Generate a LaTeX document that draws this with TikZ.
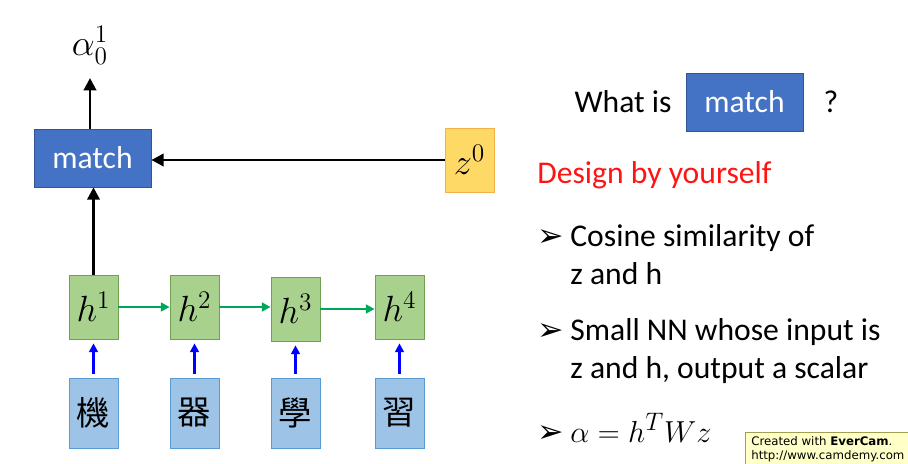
\documentclass[tikz,border=0pt]{standalone}
\usepackage{fontspec}
\usepackage{xcolor}
\usepackage{tikz}
\usetikzlibrary{calc,arrows.meta}
\setmainfont{Carlito}
\newfontfamily\cjk{Noto Sans CJK TC}
\newfontfamily\symfont{DejaVu Sans}

\definecolor{matchblue}{RGB}{68,114,196}
\definecolor{matchedge}{RGB}{47,85,151}
\definecolor{zfill}{RGB}{255,217,102}
\definecolor{zedge}{RGB}{244,177,70}
\definecolor{hfill}{RGB}{169,209,142}
\definecolor{hedge}{RGB}{112,160,80}
\definecolor{cfill}{RGB}{157,195,230}
\definecolor{cedge}{RGB}{91,155,213}
\definecolor{rnngreen}{RGB}{0,166,90}
\definecolor{designred}{RGB}{255,20,20}
\definecolor{markfill}{RGB}{255,255,200}
\definecolor{markedge}{RGB}{160,160,80}

\begin{document}
\begin{tikzpicture}[
        matchbox/.style = {draw=matchedge, fill=matchblue, text=white, minimum width=2.34cm, minimum height=1.16cm, font=\fontsize{18}{21}\selectfont},
        zbox/.style = {draw=zedge, fill=zfill, minimum width=0.98cm, minimum height=1.28cm, font=\fontsize{20}{24}\selectfont},
        hbox/.style = {draw=hedge, fill=hfill, minimum width=0.98cm, minimum height=1.28cm, font=\fontsize{20}{24}\selectfont},
        charbox/.style = {draw=cedge, fill=cfill, minimum width=0.98cm, minimum height=1.40cm, font=\fontsize{19}{22}\selectfont\cjk},
        arrow/.style = {-{Triangle[length=7pt,width=7pt]}, line width=1.6pt},
        garrow/.style = {-{Triangle[length=5pt,width=5pt]}, line width=1.2pt, rnngreen},
        barrow/.style = {-{Triangle[length=5pt,width=5pt]}, line width=1.2pt, blue},
        bigtext/.style = {font=\fontsize{18}{21.6}\selectfont, align=left, inner sep=0pt},
        bullet/.style = {font=\fontsize{18}{21}\symfont, inner sep=0pt}
    ]
    \useasboundingbox (0,0) rectangle (18.16,-9.26);

    % match and its inputs
    \node[matchbox] (match) at (1.85,-3.16) {match};
    \node[zbox] (z0) at (9.39,-3.20) {$z^0$};
    \node[font=\fontsize{20}{24}\selectfont] (alpha) at (1.80,-0.90) {$\alpha_0^1$};
    \coordinate (atop) at (1.80,-1.56);

    % hidden states
    \node[hbox] (h1) at (1.87,-6.14) {$h^1$};
    \node[hbox] (h2) at (3.89,-6.14) {$h^2$};
    \node[hbox] (h3) at (5.91,-6.18) {$h^3$};
    \node[hbox] (h4) at (7.99,-6.14) {$h^4$};

    % input characters
    \node[charbox] (c1) at (1.87,-8.26) {機};
    \node[charbox] (c2) at (3.89,-8.26) {器};
    \node[charbox] (c3) at (5.91,-8.26) {學};
    \node[charbox] (c4) at (7.99,-8.26) {習};

    % arrows
    \draw[arrow] (match.north -| atop) -- (atop);
    \draw[arrow] (z0.west) -- (z0.west -| match.east);
    \draw[arrow] (h1.north) -- (h1.north |- match.south);
    \draw[garrow] (h1.east) -- (h2.west |- h1.east);
    \draw[garrow] (h2.east) -- (h3.west |- h2.east);
    \draw[garrow] (h3.east) -- (h4.west |- h3.east);
    \draw[barrow] ($(c1.north)+(0,0.08)$) -- ($(h1.south)+(0,-0.08)$);
    \draw[barrow] ($(c2.north)+(0,0.08)$) -- ($(h2.south)+(0,-0.08)$);
    \draw[barrow] ($(c3.north)+(0,0.08)$) -- ($(h3.south)+(0,-0.08)$);
    \draw[barrow] ($(c4.north)+(0,0.08)$) -- ($(h4.south)+(0,-0.08)$);

    % question on the right
    \node[bigtext] (what) at (12.46,-2.04) {What is};
    \node[matchbox] (match2) at (14.89,-2.04) {match};
    \node[bigtext] (qmark) at (16.62,-2.04) {?};
    \node[bigtext, text=designred, anchor=base west] (design) at (10.74,-3.66) {Design by yourself};

    % ways to design it (base anchor sits on the last line)
    \node[bullet, anchor=base west] (b1) at (10.74,-4.92) {➢};
    \node[bigtext, anchor=base west] (cosine) at (11.40,-5.68) {Cosine similarity of\\z and h};
    \node[bullet, anchor=base west] (b2) at (10.74,-6.80) {➢};
    \node[bigtext, anchor=base west] (smallnn) at (11.40,-7.56) {Small NN whose input is\\z and h, output a scalar};
    \node[bullet, anchor=base west] (b3) at (10.74,-8.84) {➢};
    \node[bigtext, anchor=base west, font=\fontsize{19}{22}\selectfont] (formula) at (11.40,-8.84) {$\alpha = h^T W z$};

    % recorder stamp
    \node[draw=markedge, fill=markfill, anchor=north west, minimum width=3.3cm, minimum height=0.66cm, inner xsep=3pt, inner ysep=1pt, align=left, font=\fontsize{6.7}{8}\symfont] (stamp) at (14.90,-8.64) {Created with \textbf{EverCam}.\\http://www.camdemy.com};
\end{tikzpicture}
\end{document}
